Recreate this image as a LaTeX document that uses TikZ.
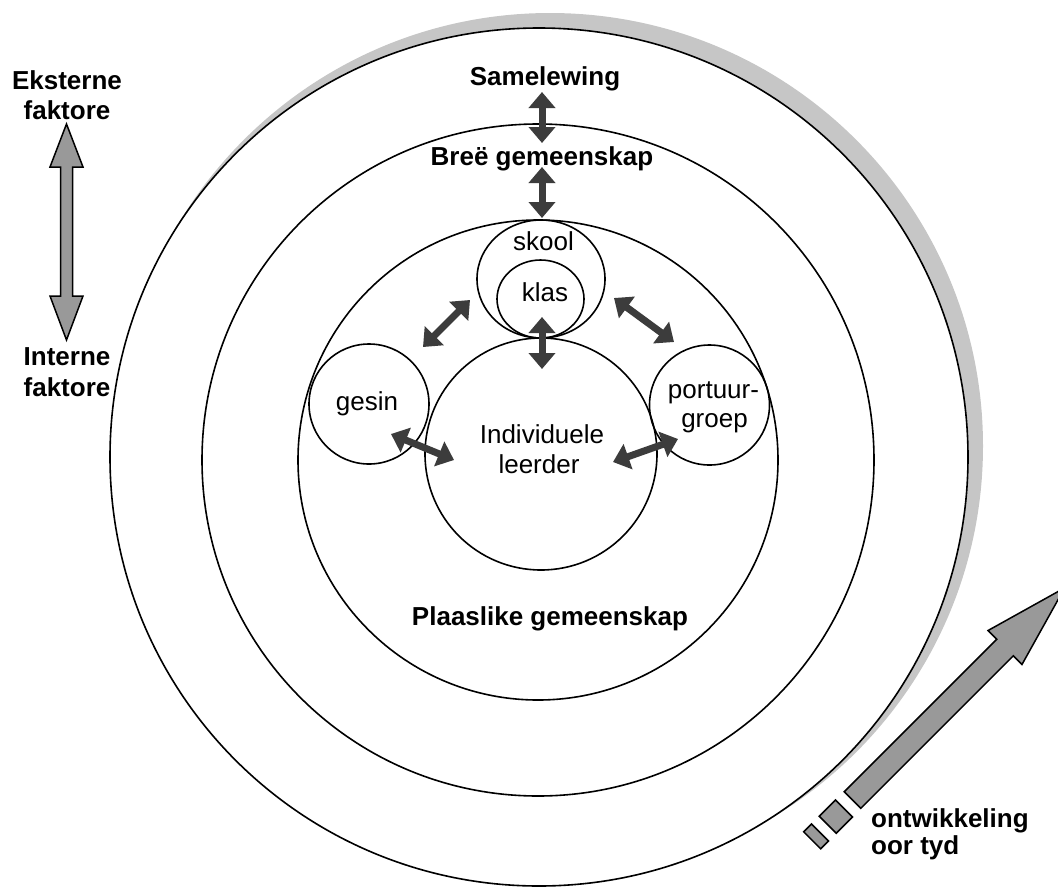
\documentclass[tikz,border=0pt]{standalone}
\usepackage{fontspec}
\setmainfont{Liberation Sans}
\usetikzlibrary{arrows.meta,shapes.geometric}
\definecolor{shadowgray}{RGB}{198,198,198}
\definecolor{arrowgray}{RGB}{153,153,153}
\definecolor{linkdark}{RGB}{60,60,60}
\begin{document}
\begin{tikzpicture}[x=1pt,y=-1pt,
  ring/.style={draw, circle, line width=1.6pt, inner sep=0pt, outer sep=0pt},
  oval/.style={draw, ellipse, line width=1.6pt, inner sep=0pt, outer sep=0pt},
  boldlabel/.style={font=\fontsize{26}{30}\selectfont\bfseries, inner sep=0pt, anchor=base},
  plainlabel/.style={font=\fontsize{26}{30}\selectfont, inner sep=0pt, anchor=base},
  link/.style={{Triangle[width=26pt,length=16pt]}-{Triangle[width=26pt,length=16pt]},
    line width=7pt, draw=linkdark},
  bigarrow/.style={draw=black, fill=arrowgray, line width=1.5pt, line join=miter}
]
\clip (0,0) rectangle (1058,887);

% nested circles of influence
\fill[shadowgray] (550,446) circle[radius=433pt];
\node[ring, fill=white, minimum size=858pt] (samelewing) at (539,457) {};
\node[ring, minimum size=672pt] (bree) at (538,460) {};
\node[ring, minimum size=480pt] (plaaslike) at (538,460) {};
\node[ring, minimum size=232pt] (leerder) at (541,454) {};
\node[oval, minimum width=128pt, minimum height=118pt] (skool) at (541,279) {};
\node[oval, minimum width=87pt, minimum height=78pt] (klas) at (540.5,299) {};
\node[ring, minimum size=120pt] (gesin) at (369,404) {};
\node[ring, minimum size=120pt] (portuur) at (709.5,405) {};

% labels
\node[boldlabel] (t-same) at (545,85) {Samelewing};
\node[boldlabel] (t-bree) at (542,165) {Breë gemeenskap};
\node[boldlabel] (t-plaas) at (550,625) {Plaaslike gemeenskap};
\node[boldlabel] (t-eks1) at (67,89) {Eksterne};
\node[boldlabel] (t-eks2) at (67,119) {faktore};
\node[boldlabel] (t-int1) at (67,365) {Interne};
\node[boldlabel] (t-int2) at (67,396) {faktore};
\node[boldlabel, anchor=base west] (t-ont1) at (871,827) {ontwikkeling};
\node[boldlabel, anchor=base west] (t-ont2) at (871,854) {oor tyd};
\node[plainlabel] (t-skool) at (543.5,250) {skool};
\node[plainlabel] (t-klas) at (545,301) {klas};
\node[plainlabel] (t-gesin) at (367,410) {gesin};
\node[plainlabel] (t-port1) at (713.5,398) {portuur-};
\node[plainlabel] (t-port2) at (714.5,427) {groep};
\node[plainlabel] (t-ind1) at (542,443) {Individuele};
\node[plainlabel] (t-ind2) at (539,473) {leerder};

% end points of the two-way links
\coordinate (l1a) at (542,92);  \coordinate (l1b) at (542,143);
\coordinate (l2a) at (542,167); \coordinate (l2b) at (542,218);
\coordinate (l3a) at (542,317); \coordinate (l3b) at (542,369);
\coordinate (l4a) at (423,347); \coordinate (l4b) at (470,300);
\coordinate (l5a) at (614,298); \coordinate (l5b) at (674,342);
\coordinate (l6a) at (391,434); \coordinate (l6b) at (454,460);
\coordinate (l7a) at (613,462); \coordinate (l7b) at (678,439);
\foreach \k in {1,...,7} \draw[link] (l\k a) -- (l\k b);

% external / internal double arrow
\draw[bigarrow] (66.5,124) -- (83,167) -- (72.5,167) -- (72.5,296) -- (83,296)
  -- (66.5,340) -- (50,296) -- (60.5,296) -- (60.5,167) -- (50,167) -- cycle;

% development over time arrow, drawn along its own axis
\begin{scope}[shift={(852.5,800)}, x={(0.7071pt,0.7071pt)}, y={(0.7071pt,-0.7071pt)}]
  \draw[bigarrow] (0,-11.7) -- (215.7,-11.7) -- (215.7,-24) -- (300,0)
    -- (215.7,24) -- (215.7,11.7) -- (0,11.7) -- cycle;
  \draw[bigarrow] (-35,-12) -- (-12,-12) -- (-12,12) -- (-35,12) -- cycle;
  \draw[bigarrow] (-57,-12) -- (-46,-12) -- (-46,12) -- (-57,12) -- cycle;
\end{scope}
\end{tikzpicture}
\end{document}
